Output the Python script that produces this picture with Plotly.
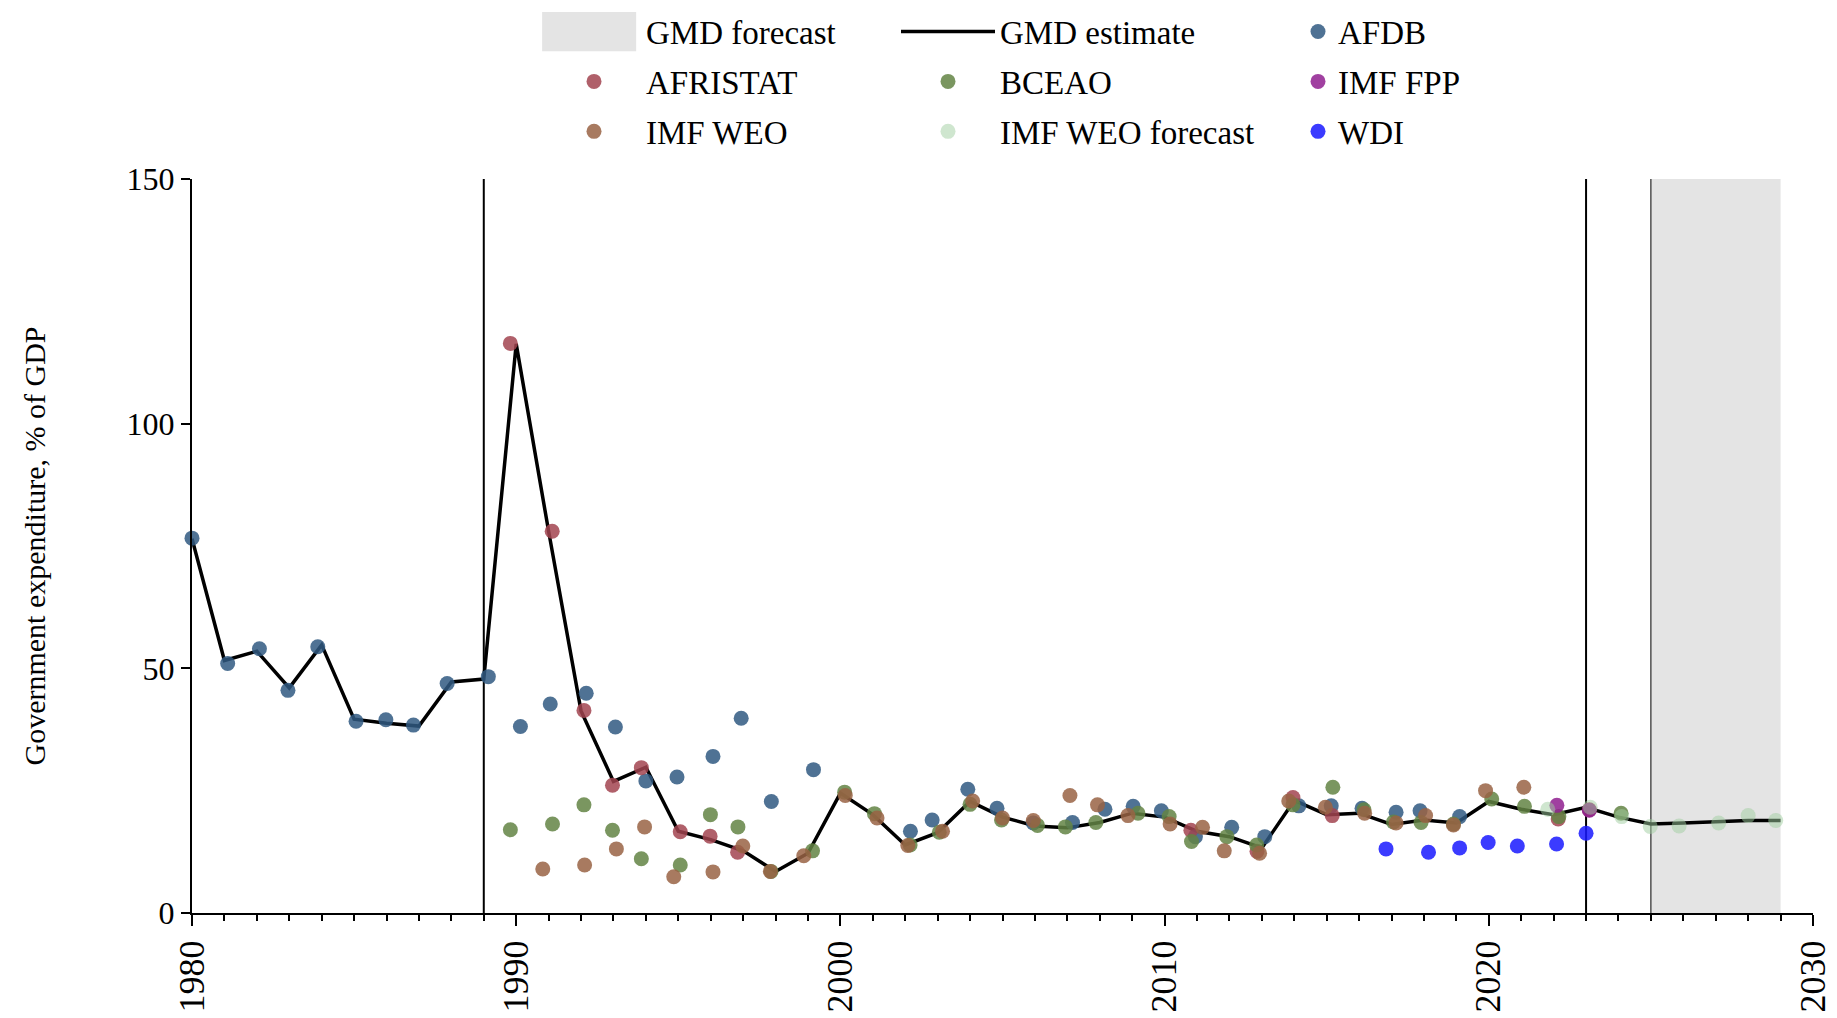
import plotly.graph_objects as go

# GMD estimate (black line), one value per year
gmd_years = list(range(1980, 2030))
gmd_values = [76.5, 51.6, 53.5, 46.0, 54.8, 39.6, 38.8, 38.2, 47.2, 47.8,
              116.3, 78.0, 41.3, 26.9, 29.8, 16.7, 15.0, 12.7, 8.5, 12.2,
              24.5, 20.1, 13.9, 16.4, 22.8, 19.6, 17.8, 17.4, 18.5, 20.4,
              19.6, 16.7, 15.6, 13.3, 23.0, 20.1, 20.4, 18.1, 19.0, 18.4,
              22.8, 21.2, 20.1, 21.6, 19.6, 18.2, 18.4, 18.7, 18.9, 18.9]

# source series (x positions, slightly jittered around the year)
afdb_x = [1980.0, 1981.1, 1982.08, 1982.96, 1983.88, 1985.06, 1985.98, 1986.83, 1987.87, 1989.14,
          1990.13, 1991.05, 1992.16, 1993.06, 1994.0, 1994.96, 1996.07, 1996.94, 1997.87, 1999.17,
          2002.16, 2002.83, 2003.93, 2004.83, 2005.95, 2007.16, 2008.16, 2009.03, 2009.9, 2010.95,
          2012.07, 2013.09, 2014.14, 2015.14, 2016.09, 2017.14, 2017.88, 2019.1]
afdb_y = [76.6, 51.0, 54.0, 45.5, 54.4, 39.2, 39.5, 38.4, 46.9, 48.3,
          38.1, 42.7, 44.9, 38.0, 27.0, 27.8, 32.0, 39.8, 22.8, 29.3,
          16.7, 19.0, 25.3, 21.4, 18.4, 18.5, 21.2, 21.8, 20.9, 15.6,
          17.5, 15.6, 21.9, 21.9, 21.4, 20.6, 20.9, 19.7]

afristat_x = [1989.82, 1991.11, 1992.09, 1992.97, 1993.86, 1995.06, 1995.98, 1996.83,
              2010.81, 2012.85, 2013.96, 2015.17, 2022.14, 2023.1]
afristat_y = [116.4, 78.0, 41.4, 26.1, 29.7, 16.6, 15.7, 12.4,
              16.9, 12.6, 23.6, 19.9, 19.2, 21.1]

bceao_x = [1989.82, 1991.12, 1992.09, 1992.97, 1993.86, 1995.06, 1995.99, 1996.84, 1997.86, 1999.14,
           2000.13, 2001.05, 2002.15, 2003.05, 2004.0, 2004.97, 2006.08, 2006.94, 2007.88, 2009.18,
           2010.14, 2010.83, 2011.92, 2012.84, 2013.96, 2015.19, 2016.15, 2017.06, 2017.91, 2018.91,
           2020.09, 2021.1, 2022.16, 2024.08]
bceao_y = [17.0, 18.2, 22.1, 16.9, 11.1, 9.8, 20.1, 17.6, 8.5, 12.7,
           24.7, 20.3, 13.9, 16.5, 22.2, 19.0, 17.9, 17.6, 18.5, 20.4,
           19.7, 14.6, 15.6, 13.9, 22.1, 25.7, 21.1, 18.6, 18.5, 18.2,
           23.3, 21.8, 19.7, 20.4]

imf_fpp_x = [2022.1, 2023.1]
imf_fpp_y = [22.0, 21.0]

imf_weo_x = [1990.82, 1992.11, 1993.09, 1993.96, 1994.86, 1996.07, 1996.99, 1997.84, 1998.87,
             2000.15, 2001.13, 2002.08, 2003.15, 2004.08, 2005.0, 2005.95, 2007.08, 2007.93, 2008.87,
             2010.17, 2011.17, 2011.84, 2012.93, 2013.83, 2014.96, 2016.17, 2017.14, 2018.05, 2018.91,
             2019.9, 2021.08]
imf_weo_y = [9.0, 9.8, 13.1, 17.6, 7.4, 8.4, 13.7, 8.5, 11.7,
             24.0, 19.4, 13.8, 16.7, 22.9, 19.4, 18.9, 24.0, 22.1, 19.9,
             18.2, 17.5, 12.7, 12.2, 22.9, 21.6, 20.4, 18.4, 19.9, 18.0,
             25.0, 25.7]

weo_fc_x = [2021.82, 2023.13, 2024.1, 2024.98, 2025.87, 2027.09, 2028.0, 2028.85]
weo_fc_y = [21.2, 21.6, 19.7, 17.7, 17.8, 18.4, 19.9, 18.9]

wdi_x = [2016.83, 2018.14, 2019.1, 2019.98, 2020.88, 2022.09, 2023.0]
wdi_y = [13.1, 12.4, 13.3, 14.4, 13.7, 14.1, 16.3]

# markers / periods
marker_lines = [1989, 2023]
forecast_start, forecast_end = 2025, 2029

FONT = "Liberation Serif"
SHADE = "rgb(228,228,228)"

fig = go.Figure()

fig.add_trace(go.Scatter(x=gmd_years, y=gmd_values, mode="lines", name="GMD estimate",
                         line=dict(color="black", width=3.5), legend="legend2",
                         legendgroup="gmd_est"))

def dots(x, y, name, color, legend, opacity=0.85):
    fig.add_trace(go.Scatter(x=x, y=y, mode="markers", name=name, legend=legend, legendgroup=name,
                             marker=dict(color=color, size=15, opacity=opacity),
                             cliponaxis=False))

dots(afdb_x, afdb_y, "AFDB", "rgb(48,89,129)", "legend3")
dots(afristat_x, afristat_y, "AFRISTAT", "rgb(162,68,80)", "legend")
dots(bceao_x, bceao_y, "BCEAO", "rgb(99,132,68)", "legend2")
dots(imf_fpp_x, imf_fpp_y, "IMF FPP", "rgb(143,30,143)", "legend3")
dots(imf_weo_x, imf_weo_y, "IMF WEO", "rgb(153,99,68)", "legend")
dots(weo_fc_x, weo_fc_y, "IMF WEO forecast", "rgb(160,205,160)", "legend2", opacity=0.5)
dots(wdi_x, wdi_y, "WDI", "rgb(25,25,255)", "legend3")

# forecast shading
fig.add_shape(type="rect", xref="x", yref="y", x0=forecast_start, x1=forecast_end, y0=0, y1=150,
              fillcolor=SHADE, line=dict(width=0), layer="below",
              showlegend=True, name="GMD forecast", legend="legend", legendgroup="gmd_fc",
              legendrank=1)
fig.add_shape(type="line", xref="x", yref="y", x0=forecast_start, x1=forecast_start, y0=0, y1=150,
              line=dict(color="black", width=1), layer="below")
for yr in marker_lines:
    fig.add_shape(type="line", xref="x", yref="y", x0=yr, x1=yr, y0=0, y1=150,
                  line=dict(color="black", width=2), layer="below")

# wide legend swatch for the forecast band (plotly's own shape icon is tiny)
fig.add_shape(type="rect", xref="paper", yref="paper", x0=0.216, x1=0.274, y0=1.174, y1=1.2275,
              fillcolor=SHADE, line=dict(width=0), layer="below")

legend_common = dict(font=dict(family=FONT, size=33, color="black"), bgcolor="rgba(0,0,0,0)",
                     yanchor="top", xanchor="left", y=1.239, traceorder="grouped",
                     tracegroupgap=4)

fig.update_layout(
    width=1829, height=1010,
    margin=dict(l=184, r=24, t=171, b=105, autoexpand=False),
    plot_bgcolor="white", paper_bgcolor="white",
    font=dict(family=FONT, color="black"),
    legend=dict(x=(542 - 192) / 1621, itemwidth=94, **legend_common),
    legend2=dict(x=(896 - 192) / 1621, itemwidth=94, **legend_common),
    legend3=dict(x=(1298 - 192) / 1621, itemwidth=30, **legend_common),
    xaxis=dict(range=[1980, 2030], tickmode="linear", tick0=1980, dtick=10, automargin=False,
               ticks="outside", ticklen=11, tickwidth=2, tickcolor="black",
               minor=dict(dtick=1, ticks="outside", ticklen=6, tickwidth=2, tickcolor="black"),
               showline=True, linecolor="black", linewidth=2, showgrid=False, zeroline=False,
               tickangle=-90, tickfont=dict(family=FONT, size=36)),
    yaxis=dict(range=[0, 150], tickvals=[0, 50, 100, 150], automargin=False,
               ticks="outside", ticklen=9, tickwidth=2, tickcolor="black",
               showline=True, linecolor="black", linewidth=2, showgrid=False, zeroline=False,
               tickfont=dict(family=FONT, size=32),
               title=dict(text="Government expenditure, % of GDP", standoff=72,
                          font=dict(family=FONT, size=30))),
)

fig.write_html("out.html")
